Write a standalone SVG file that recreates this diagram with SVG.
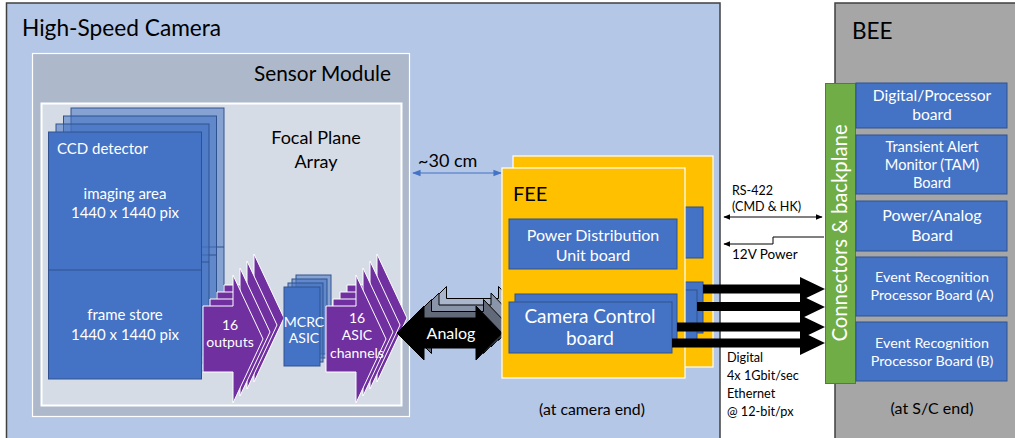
<svg xmlns="http://www.w3.org/2000/svg" width="1015" height="438" viewBox="0 0 1015 438">
  <defs>
    <style>
      text { font-family: Lato, "Liberation Sans", "DejaVu Sans", sans-serif; }
      .board { fill: #4472c4; stroke: #2f528f; stroke-width: 1; }
      .ccdback { fill: #4472c4; fill-opacity: 0.55; stroke: #2f528f; stroke-width: 1; }
      .purple { fill: #7030a0; stroke: #ffffff; stroke-width: 1; }
      .fee { fill: #ffc000; stroke: #ffffff; stroke-width: 1.2; }
      .wt { fill: #ffffff; }
      .bk { fill: #000000; }
      .thin { stroke: #000000; stroke-width: 1; fill: none; }
    </style>
    <marker id="ah" viewBox="0 0 10 10" refX="9" refY="5" markerWidth="7" markerHeight="7" orient="auto-start-reverse">
      <path d="M0,1 L10,5 L0,9 Z" fill="#000000"/>
    </marker>
    <marker id="ahb" viewBox="0 0 10 10" refX="9" refY="5" markerWidth="7" markerHeight="7" orient="auto-start-reverse">
      <path d="M0,1 L10,5 L0,9 Z" fill="#4472c4"/>
    </marker>
    <!-- block arrow used for the 16-channel bundles -->
    <path id="blk" d="M0,306 H30 V275 L60,339 L30,403 V372 H0 Z"/>
    <!-- double-headed analog cable arrow -->
    <path id="dbl" d="M397,333 L424,306 V318 H476 V306 L502,333 L476,360 V348 H424 V360 Z"/>
  </defs>

  <rect width="1015" height="438" fill="#ffffff"/>

  <!-- Camera enclosure -->
  <g id="camera">
    <rect x="6.5" y="3" width="713.5" height="440" fill="#b4c7e7" stroke="#404040" stroke-width="1.5"/>
    <text x="22" y="36" font-size="22.7" fill="#000">High-Speed Camera</text>
  </g>

  <!-- Back-end electronics -->
  <g id="bee">
    <rect x="835" y="3" width="185" height="440" fill="#a6a6a6" stroke="#404040" stroke-width="1.5"/>
    <text x="852" y="39" font-size="22.5" fill="#000">BEE</text>
    <text x="932" y="414" font-size="16" text-anchor="middle" fill="#000">(at S/C end)</text>
  </g>

  <!-- Sensor module -->
  <g id="sensor-module">
    <rect x="32.5" y="53.5" width="377" height="363" fill="#adb9ca" stroke="#ffffff" stroke-width="1.2"/>
    <text x="391" y="81" font-size="20.8" text-anchor="end" fill="#000">Sensor Module</text>
  </g>

  <g id="focal-plane">
    <rect x="41.5" y="103.5" width="360" height="302" fill="#d6dce5" stroke="#ffffff" stroke-width="2"/>
    <text x="316" y="144" font-size="18" text-anchor="middle" fill="#000">Focal Plane</text>
    <text x="316" y="168" font-size="18" text-anchor="middle" fill="#000">Array</text>
  </g>

  <!-- CCD stack -->
  <g id="ccd">
    <rect class="ccdback" x="71" y="108" width="153" height="247"/>
    <line x1="71" y1="247" x2="224" y2="247" stroke="#2f528f"/>
    <rect class="ccdback" x="63.5" y="116" width="153" height="247"/>
    <line x1="63.5" y1="255" x2="216.5" y2="255" stroke="#2f528f"/>
    <rect class="ccdback" x="56" y="124" width="153" height="247"/>
    <line x1="56" y1="262" x2="209" y2="262" stroke="#2f528f"/>
    <rect class="board" x="48.5" y="132" width="153" height="247"/>
    <line x1="48.5" y1="270" x2="201.5" y2="270" stroke="#2f528f" stroke-width="1.2"/>
    <text x="57" y="154" font-size="15" class="wt">CCD detector</text>
    <text x="125" y="199" font-size="15" text-anchor="middle" class="wt">imaging area</text>
    <text x="125" y="218" font-size="15" text-anchor="middle" class="wt">1440 x 1440 pix</text>
    <text x="125" y="320" font-size="15" text-anchor="middle" class="wt">frame store</text>
    <text x="125" y="340" font-size="15" text-anchor="middle" class="wt">1440 x 1440 pix</text>
  </g>

  <!-- CCD outputs bundle -->
  <g id="outputs">
    <use href="#blk" class="purple" transform="translate(224,-21)"/>
    <use href="#blk" class="purple" transform="translate(217,-14)"/>
    <use href="#blk" class="purple" transform="translate(210,-7)"/>
    <use href="#blk" class="purple" transform="translate(203,0)"/>
    <text x="230" y="330" font-size="14" text-anchor="middle" class="wt">16</text>
    <text x="230" y="347" font-size="14" text-anchor="middle" class="wt">outputs</text>
  </g>

  <!-- MCRC ASIC stack -->
  <g id="mcrc-asic">
    <rect class="ccdback" x="296" y="275" width="35" height="79"/>
    <rect class="ccdback" x="292" y="279" width="35" height="79"/>
    <rect class="ccdback" x="288" y="283" width="35" height="79"/>
    <rect class="board" x="284" y="287" width="36" height="79"/>
    <text x="304" y="327" font-size="14" text-anchor="middle" class="wt">MCRC</text>
    <text x="304" y="343" font-size="14" text-anchor="middle" class="wt">ASIC</text>
  </g>

  <!-- ASIC channel bundle -->
  <g id="asic-channels">
    <use href="#blk" class="purple" transform="translate(347,-21)"/>
    <use href="#blk" class="purple" transform="translate(340,-14)"/>
    <use href="#blk" class="purple" transform="translate(333,-7)"/>
    <use href="#blk" class="purple" transform="translate(326,0)"/>
    <text x="357" y="323" font-size="14" text-anchor="middle" class="wt">16</text>
    <text x="357" y="340" font-size="14" text-anchor="middle" class="wt">ASIC</text>
    <text x="357" y="358" font-size="14" text-anchor="middle" class="wt">channels</text>
  </g>

  <g id="connectors">
    <!-- cable length -->
    <line x1="413" y1="173" x2="501" y2="173" stroke="#4472c4" stroke-width="1.2" marker-start="url(#ahb)" marker-end="url(#ahb)"/>
    <text x="418" y="167" font-size="18" fill="#000">~30 cm</text>

    <!-- analog harness -->
    <use href="#dbl" fill="#aab6cb" stroke="#000" stroke-width="1" transform="translate(22.5,-19.5)"/>
    <use href="#dbl" fill="#8a95a9" stroke="#000" stroke-width="1" transform="translate(15,-13)"/>
    <use href="#dbl" fill="#626a7a" stroke="#000" stroke-width="1" transform="translate(7.5,-6.5)"/>
    <use href="#dbl" fill="#000000" stroke="#000" stroke-width="1"/>
    <text x="451" y="339" font-size="16" text-anchor="middle" class="wt">Analog</text>
  </g>

  <!-- Front-end electronics (two units) -->
  <g id="fee-back">
    <rect class="fee" x="513" y="156" width="200" height="211"/>
    <rect class="board" x="620" y="207" width="83" height="51"/>
    <rect class="board" x="620" y="282" width="83" height="51"/>
    <rect class="board" x="614" y="290" width="83" height="52"/>
  </g>

  <g id="fee">
    <rect class="fee" x="502" y="168" width="183" height="210"/>
    <text x="513" y="201" font-size="20" fill="#000">FEE</text>
    <text x="592" y="415" font-size="15.8" text-anchor="middle" fill="#000">(at camera end)</text>
  </g>

  <g id="pdu">
    <rect class="board" x="509" y="219" width="168" height="50"/>
    <text x="593" y="241" font-size="16" text-anchor="middle" class="wt">Power Distribution</text>
    <text x="593" y="261" font-size="16" text-anchor="middle" class="wt">Unit board</text>
  </g>

  <g id="camera-control">
    <rect class="board" x="515" y="294" width="162" height="52"/>
    <rect class="board" x="509" y="302" width="163" height="51"/>
    <text x="590" y="323" font-size="19" text-anchor="middle" class="wt">Camera Control</text>
    <text x="590" y="345" font-size="19" text-anchor="middle" class="wt">board</text>
  </g>

  <g id="links">
    <!-- digital Ethernet links -->
    <path class="bk" d="M703,284.5 H800 V277 L825,289 L800,301 V293.5 H703 Z"/>
    <path class="bk" d="M697,302 H800 V295 L825,307 L800,319 V311 H697 Z"/>
    <path class="bk" d="M677,322.5 H800 V315 L825,327 L800,339 V331.5 H677 Z"/>
    <path class="bk" d="M672,338.5 H800 V331 L825,343 L800,355 V347.5 H672 Z"/>
    <!-- RS-422 -->
    <line class="thin" x1="724" y1="217" x2="822" y2="217" marker-start="url(#ah)" marker-end="url(#ah)"/>
    <!-- 12 V power -->
    <polyline class="thin" points="824,237 773,237 773,244 724,244" marker-end="url(#ah)"/>
    <text x="732" y="195" font-size="12.5" fill="#000">RS-422</text>
    <text x="732" y="211" font-size="12.5" fill="#000">(CMD &amp; HK)</text>
    <text x="732" y="259" font-size="13.5" fill="#000">12V Power</text>
    <text x="727" y="362" font-size="12.7" fill="#000">Digital</text>
    <text x="727" y="380" font-size="12.7" fill="#000">4x 1Gbit/sec</text>
    <text x="727" y="398" font-size="12.7" fill="#000">Ethernet</text>
    <text x="727" y="416" font-size="12.7" fill="#000">@ 12-bit/px</text>
  </g>

  <!-- Backplane -->
  <g id="backplane">
    <rect x="825.5" y="83.5" width="30" height="300" fill="#70ad47" stroke="#507e32" stroke-width="1"/>
    <text transform="translate(847,233) rotate(-90)" font-size="20.3" text-anchor="middle" class="wt">Connectors &amp; backplane</text>
  </g>

  <g id="digital-processor">
    <rect class="board" x="856" y="83" width="151" height="45"/>
    <text x="932" y="101" font-size="15.6" text-anchor="middle" class="wt">Digital/Processor</text>
    <text x="932" y="120" font-size="15.6" text-anchor="middle" class="wt">board</text>
  </g>
  <g id="tam">
    <rect class="board" x="856" y="135" width="151" height="59"/>
    <text x="932" y="152" font-size="14.6" text-anchor="middle" class="wt">Transient Alert</text>
    <text x="932" y="170" font-size="14.6" text-anchor="middle" class="wt">Monitor (TAM)</text>
    <text x="932" y="188" font-size="14.6" text-anchor="middle" class="wt">Board</text>
  </g>
  <g id="power-analog">
    <rect class="board" x="856" y="201" width="151" height="50"/>
    <text x="932" y="221" font-size="16" text-anchor="middle" class="wt">Power/Analog</text>
    <text x="932" y="241" font-size="16" text-anchor="middle" class="wt">Board</text>
  </g>
  <g id="erp-a">
    <rect class="board" x="856" y="257" width="151" height="59"/>
    <text x="932" y="282" font-size="14.3" text-anchor="middle" class="wt">Event Recognition</text>
    <text x="932" y="300" font-size="14.3" text-anchor="middle" class="wt">Processor Board (A)</text>
  </g>
  <g id="erp-b">
    <rect class="board" x="856" y="322" width="151" height="59"/>
    <text x="932" y="348" font-size="14.3" text-anchor="middle" class="wt">Event Recognition</text>
    <text x="932" y="366" font-size="14.3" text-anchor="middle" class="wt">Processor Board (B)</text>
  </g>
</svg>
